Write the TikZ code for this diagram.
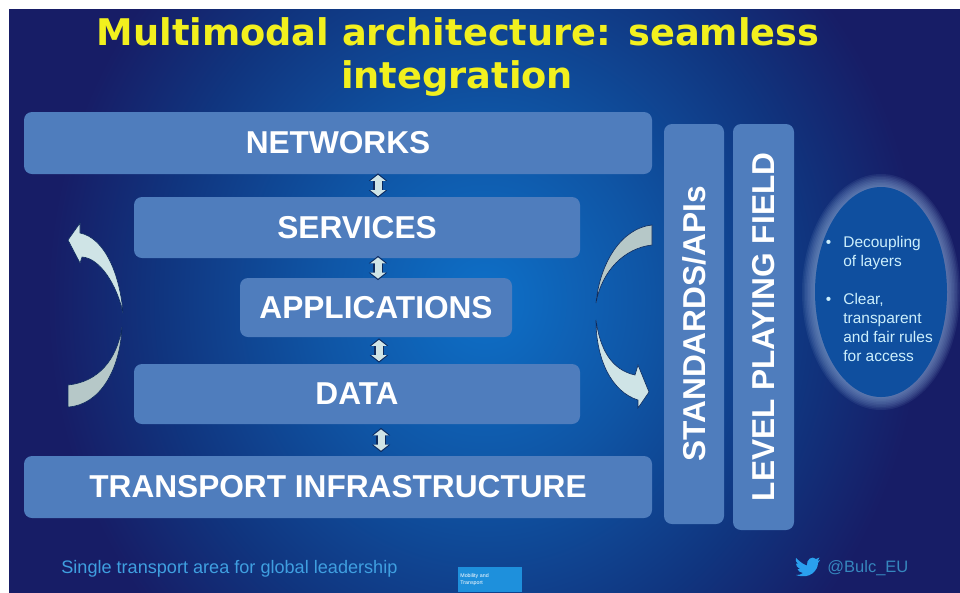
\documentclass[tikz,border=0pt]{standalone}
\usepackage{fontspec}
\setmainfont{Liberation Sans}
\newfontfamily\titlefont{DejaVu Sans}
\usetikzlibrary{shapes.geometric}
\usetikzlibrary{arrows.meta}
\definecolor{boxblue}{HTML}{4F7DBD}
\definecolor{navy}{HTML}{171D66}
\definecolor{midblue}{HTML}{0F4F9F}
\definecolor{coreblue}{HTML}{0E70C8}
\definecolor{innerblue}{HTML}{0F55A5}
\definecolor{outerblue}{HTML}{10357F}
\definecolor{titleyellow}{HTML}{F2F01E}
\definecolor{footblue}{HTML}{3F9FE0}
\definecolor{logoblue}{HTML}{1E90DC}
\definecolor{birdblue}{HTML}{2AA0EE}
\definecolor{linkedge}{HTML}{0D2A5E}
\definecolor{palebow}{HTML}{CFE4E6}
\definecolor{greybow}{HTML}{B6C8C8}
\pgfdeclareradialshading{slidebg}{\pgfpoint{0bp}{0bp}}{%
  color(0bp)=(coreblue);color(8.6bp)=(innerblue);
  color(17bp)=(outerblue);color(23bp)=(navy);color(100bp)=(navy)}
\tikzset{
    size/.style 2 args = {minimum width=#1*0.2mm, minimum height=#2*0.2mm},
    layer/.style = {rectangle, rounded corners=1.6mm, fill=boxblue, text=white, inner sep=0pt,
        font=\fontsize{18}{18}\selectfont\bfseries},
    pillar/.style = {layer, rotate=90},
    title/.style = {text=titleyellow, inner sep=0pt, anchor=base, font=\titlefont\fontsize{20.9}{20.9}\selectfont\bfseries},
    footer/.style = {text=footblue, inner sep=0pt, anchor=west, font=\fontsize{10.3}{10.3}\selectfont},
    oval/.style = {ellipse, fill=midblue, inner sep=0pt},
    ovaltext/.style = {text=white!80!cyan, inner sep=0pt, align=left, anchor=north west,
        font=\fontsize{8.8}{10.8}\selectfont},
    linkhalo/.style = {{Triangle[width=3.6mm,length=1.5mm]}-{Triangle[width=3.6mm,length=1.5mm]},line width=2mm,linkedge},
    linkn/.style = {{Triangle[width=3mm,length=1.2mm]}-{Triangle[width=3mm,length=1.2mm]},line width=1.4mm,palebow},
    bowup/.style = {fill=palebow, draw=linkedge, line width=0.12mm},
    bowdown/.style = {fill=greybow, draw=linkedge, line width=0.12mm}
}
\begin{document}
\begin{tikzpicture}[x=0.2mm,y=-0.2mm]
\useasboundingbox (0,0) rectangle (960,592);
\begin{scope}
\clip (9,9) rectangle (960,592);
\shade[shading=slidebg] (9,-220) rectangle (960,820);
\end{scope}
%
\node[title] at (458,45.5) (head1) {Multimodal architecture: seamless};
\node[title] at (457,88) (head2) {integration};
%
\node[layer, size={628}{62}] at (338,143) (networks) {NETWORKS};
\node[layer, size={446}{61}] at (357,227.5) (services) {SERVICES};
\node[layer, size={272}{59}] at (376,307.5) (applications) {APPLICATIONS};
\node[layer, size={446}{60}] at (357,394) (data) {DATA};
\node[layer, size={628}{62}] at (338,487) (transport) {TRANSPORT INFRASTRUCTURE};
\node[pillar, size={400}{60}] at (694,324) (standards) {STANDARDS/APIs};
\node[pillar, size={406}{61}] at (763.5,327) (playing) {LEVEL PLAYING FIELD};
%
\foreach \from/\to/\xx/\sh in {networks/services/378/-0.2,services/applications/378/-0.5,applications/data/379/0.2,data/transport/381/0.7} {
  \coordinate (linkx) at (\xx,0);
  \draw[linkhalo, shorten >=\sh*1mm, shorten <=\sh*1mm] (\from.south -| linkx) -- (\to.north -| linkx);
  \draw[linkn, shorten >=(\sh+0.3)*1mm, shorten <=(\sh+0.3)*1mm] (\from.south -| linkx) -- (\to.north -| linkx);
}
%
\foreach \grow in {26,23,20,17,14,11,8,5,2} {
  \fill[white!30!boxblue,opacity=0.11] (881,292) ellipse ({66+\grow/2} and {105+\grow/2});
}
\node[oval, minimum width=132*0.2mm, minimum height=210*0.2mm] at (881,292) (rules) {};
\node[ovaltext] at (843,236) (decoupling) {\llap{\textbullet\hspace{2.4mm}}Decoupling\\of layers};
\node[ovaltext] at (843,293) (fair) {\llap{\textbullet\hspace{2.4mm}}Clear,\\transparent\\and fair rules\\for access};
%
\draw[bowup] (123,313) .. controls (120,275) and (105,238) .. (80,233) -- (80,223) -- (68,240) -- (80,263) -- (82,257) .. controls (100,258) and (117,285) .. (123,313) -- cycle;
\draw[bowdown] (122,327) .. controls (117,360) and (98,382) .. (68,385) -- (68,407) .. controls (100,405) and (120,370) .. (122,327) -- cycle;
\draw[bowdown] (596,303) .. controls (600,262) and (622,228) .. (652,225) -- (652,245) .. controls (625,248) and (602,270) .. (596,303) -- cycle;
\draw[bowup] (596,320) .. controls (600,350) and (612,370) .. (635,375) -- (638,365) -- (649,392) -- (638,408) -- (638,400) .. controls (612,392) and (596,360) .. (596,320) -- cycle;
%
\node[footer] at (61,569) (motto) {Single transport area for global leadership};
\node[footer, text=footblue!85!black, font=\fontsize{9.4}{9.4}\selectfont] at (827,568) (handle) {@Bulc\_EU};
\fill[birdblue] (796,558) .. controls (801,563) and (805,565) .. (807,565.5) .. controls (806,560) and (812,555) .. (816,559) -- (819.5,557.5) -- (817.5,561) -- (820,560) -- (818,563) .. controls (818,570) and (810,580) .. (796,575) .. controls (799,575) and (801,574.5) .. (803,573) .. controls (800,572.5) and (798,571) .. (797.5,569) -- (800,569) .. controls (797,567.5) and (796,565.5) .. (796,563.5) -- (798,564) .. controls (795.5,562) and (795.5,560) .. (796,558) -- cycle;
\node[fill=logoblue, text=white, size={64}{25}, inner sep=0.3mm, anchor=north west, align=left, text width=12mm, font=\fontsize{3}{4}\selectfont] at (458,567) (logo) {Mobility and\\Transport};
\end{tikzpicture}
\end{document}
